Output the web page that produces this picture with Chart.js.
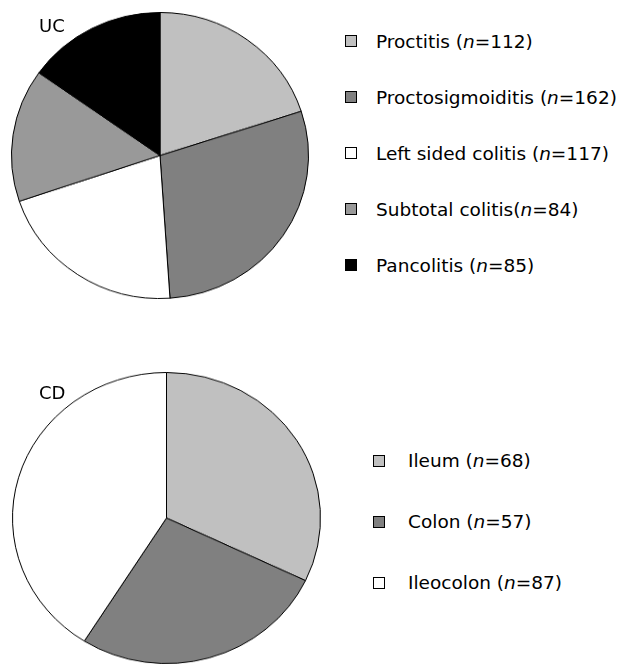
<!DOCTYPE html>
<html>
<head>
<meta charset="utf-8">
<script src="https://cdn.jsdelivr.net/npm/chart.js@4.4.0/dist/chart.umd.min.js"></script>
<style>
  body { margin: 0; background: #fff; font-family: "DejaVu Sans", sans-serif; color: #000; }
  #page { position: relative; width: 619px; height: 665px; overflow: hidden; }
  canvas { position: absolute; }
  .tag { position: absolute; font-size: 18px; line-height: 18px; }
  .legend { position: absolute; }
  .row { display: flex; align-items: center; font-size: 18.5px; white-space: nowrap; }
  .box { width: 10px; height: 10px; border: 1px solid #000; flex: none; }
</style>
</head>
<body>
<div id="page">
  <canvas id="ucChart" width="298" height="298" style="left:11px;top:12px;width:298px;height:287px;"></canvas>
  <canvas id="cdChart" width="309" height="309" style="left:12px;top:372px;width:309px;height:292px;"></canvas>
  <div class="tag" style="left:39px;top:17px;">UC</div>
  <div class="tag" style="left:39px;top:384px;">CD</div>
  <div class="legend" id="ucLegend" style="left:345px;top:13px;"></div>
  <div class="legend" id="cdLegend" style="left:373px;top:430px;"></div>
</div>
<script>
// UC extent
const ucNames = ["Proctitis ", "Proctosigmoiditis ", "Left sided colitis ", "Subtotal colitis", "Pancolitis "];
const ucCounts = [112, 162, 117, 84, 85];
const ucColors = ["#c0c0c0", "#808080", "#ffffff", "#999999", "#000000"];

// CD location
const cdNames = ["Ileum ", "Colon ", "Ileocolon "];
const cdCounts = [68, 57, 87];
const cdColors = ["#c0c0c0", "#808080", "#ffffff"];

function makePie(id, names, counts, colors) {
  const ctx = document.getElementById(id).getContext("2d");
  return new Chart(ctx, {
    type: "pie",
    data: {
      labels: names,
      datasets: [{
        data: counts,
        backgroundColor: colors,
        borderColor: "#000",
        borderWidth: 1,
        hoverOffset: 0,
        offset: 0
      }]
    },
    options: {
      responsive: false,
      animation: false,
      layout: { padding: 0 },
      plugins: {
        legend: { display: false },
        tooltip: { enabled: false }
      }
    }
  });
}

function makeLegend(id, names, counts, colors, rowHeight, gap) {
  const el = document.getElementById(id);
  names.forEach((name, i) => {
    const row = document.createElement("div");
    row.className = "row";
    row.style.height = rowHeight + "px";
    const box = document.createElement("span");
    box.className = "box";
    box.style.background = colors[i];
    box.style.marginRight = gap + "px";
    const txt = document.createElement("span");
    txt.innerHTML = name + "(<i>n</i>=" + counts[i] + ")";
    row.appendChild(box);
    row.appendChild(txt);
    el.appendChild(row);
  });
}

makePie("ucChart", ucNames, ucCounts, ucColors);
makePie("cdChart", cdNames, cdCounts, cdColors);
makeLegend("ucLegend", ucNames, ucCounts, ucColors, 56, 19);
makeLegend("cdLegend", cdNames, cdCounts, cdColors, 61, 23);
</script>
</body>
</html>
